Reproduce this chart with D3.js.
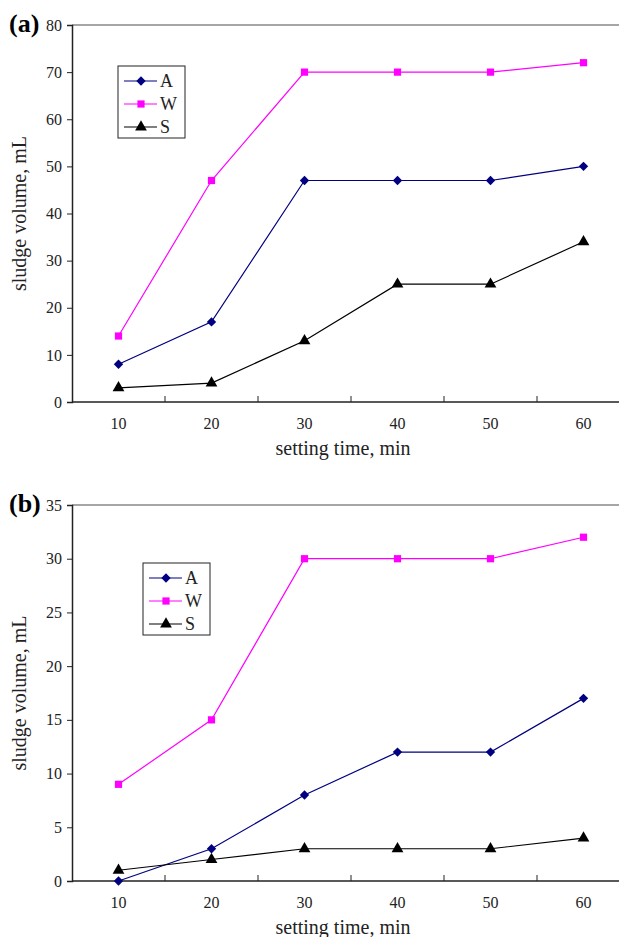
<!DOCTYPE html>
<html>
<head>
<meta charset="utf-8">
<script src="https://cdn.jsdelivr.net/npm/d3@7"></script>
<style>
  body { margin: 0; background: #fff; }
  svg text { font-family: "Liberation Serif", "DejaVu Serif", serif; fill: #222; }
</style>
</head>
<body>
<svg id="chart" width="619" height="937"></svg>
<script>
  // shared categories
  var times = [10, 20, 30, 40, 50, 60];
  var seriesNames = ["A", "W", "S"];

  // panel (a) values
  var aA = [8, 17, 47, 47, 47, 50];
  var aW = [14, 47, 70, 70, 70, 72];
  var aS = [3, 4, 13, 25, 25, 34];
  var aTicks = [0, 10, 20, 30, 40, 50, 60, 70, 80];

  // panel (b) values
  var bA = [0, 3, 8, 12, 12, 17];
  var bW = [9, 15, 30, 30, 30, 32];
  var bS = [1, 2, 3, 3, 3, 4];
  var bTicks = [0, 5, 10, 15, 20, 25, 30, 35];

  var colors = {A: "#000080", W: "#ff00ff", S: "#000000"};
  var symbols = {A: d3.symbolSquare, W: d3.symbolSquare, S: d3.symbolTriangle};
  var symSize = {A: 44, W: 52, S: 60};
  var symRot = {A: 45, W: 0, S: 0};

  var svg = d3.select("#chart");

  function marker(name) {
    return d3.symbol().type(symbols[name]).size(symSize[name])();
  }

  function drawPanel(opt) {
    var left = 72, width = 558;
    var g = svg.append("g");

    var x = d3.scaleBand().domain(times).range([left, left + width]);
    var y = d3.scaleLinear().domain([0, d3.max(opt.ticks)]).range([opt.bottom, opt.top]);

    // top frame line
    g.append("line")
      .attr("x1", left).attr("x2", left + width)
      .attr("y1", opt.top).attr("y2", opt.top)
      .attr("stroke", "#888").attr("stroke-width", 1.5);

    // y axis
    var yAxis = g.append("g")
      .attr("transform", "translate(" + left + ",0)")
      .call(d3.axisLeft(y).tickValues(opt.ticks).tickSize(5).tickPadding(5));
    yAxis.attr("font-family", null);
    yAxis.select(".domain").attr("stroke", "#222").attr("stroke-width", 1.5);
    yAxis.selectAll("line").attr("stroke", "#222");
    yAxis.selectAll("text").style("font-size", "16px");

    // x axis: inward ticks at band edges, labels at band centres
    var edges = times.map(function(d) { return x(d); }).slice(1);
    edges.push(left + width);
    g.selectAll(".xtick")
      .data(edges)
      .enter()
      .append("line")
      .attr("x1", function(d) { return d; })
      .attr("x2", function(d) { return d; })
      .attr("y1", opt.bottom)
      .attr("y2", opt.bottom - 6)
      .attr("stroke", "#222");
    g.append("line")
      .attr("x1", left).attr("x2", left + width)
      .attr("y1", opt.bottom).attr("y2", opt.bottom)
      .attr("stroke", "#222").attr("stroke-width", 1.5);
    g.selectAll(".xlab")
      .data(times)
      .enter()
      .append("text")
      .attr("x", function(d) { return x(d) + x.bandwidth() / 2; })
      .attr("y", opt.bottom + 27)
      .attr("text-anchor", "middle")
      .style("font-size", "16px")
      .text(function(d) { return d; });

    // axis titles
    g.append("text")
      .attr("x", 343)
      .attr("y", opt.bottom + 53)
      .attr("text-anchor", "middle")
      .style("font-size", "20px")
      .text("setting time, min");
    g.append("text")
      .attr("transform", "translate(26," + ((opt.top + opt.bottom) / 2) + ") rotate(-90)")
      .attr("text-anchor", "middle")
      .style("font-size", "20px")
      .text("sludge volume, mL");

    // panel label
    g.append("text")
      .attr("x", 9)
      .attr("y", opt.top + 7)
      .style("font-size", "26px")
      .style("font-weight", "bold")
      .style("fill", "#000")
      .text(opt.label);

    // series
    var line = d3.line()
      .x(function(d) { return x(d.t) + x.bandwidth() / 2; })
      .y(function(d) { return y(d.v); });

    seriesNames.forEach(function(name) {
      var pts = times.map(function(t, i) { return {t: t, v: opt.data[name][i]}; });
      g.append("path")
        .datum(pts)
        .attr("fill", "none")
        .attr("stroke", colors[name])
        .attr("stroke-width", 1.2)
        .attr("d", line);
      g.selectAll(".pt-" + name)
        .data(pts)
        .enter()
        .append("path")
        .attr("transform", function(d) {
          return "translate(" + (x(d.t) + x.bandwidth() / 2) + "," + y(d.v) + ") rotate(" + symRot[name] + ")";
        })
        .attr("d", marker(name))
        .attr("fill", colors[name]);
    });

    // legend
    var lg = g.append("g").attr("transform", "translate(" + opt.legend[0] + "," + opt.legend[1] + ")");
    lg.append("rect")
      .attr("width", 67).attr("height", 72)
      .attr("fill", "#fff").attr("stroke", "#222").attr("stroke-width", 1);
    seriesNames.forEach(function(name, i) {
      var ly = 15 + i * 23;
      lg.append("line")
        .attr("x1", 6).attr("x2", 39)
        .attr("y1", ly).attr("y2", ly)
        .attr("stroke", colors[name]).attr("stroke-width", 1.2);
      lg.append("path")
        .attr("transform", "translate(23," + ly + ") rotate(" + symRot[name] + ")")
        .attr("d", marker(name))
        .attr("fill", colors[name]);
      lg.append("text")
        .attr("x", 42)
        .attr("y", ly + 6)
        .style("font-size", "18px")
        .text(name);
    });
  }

  drawPanel({
    label: "(a)", top: 25, bottom: 402, ticks: aTicks,
    data: {A: aA, W: aW, S: aS}, legend: [118, 66]
  });
  drawPanel({
    label: "(b)", top: 505, bottom: 881, ticks: bTicks,
    data: {A: bA, W: bW, S: bS}, legend: [143, 563]
  });
</script>
</body>
</html>
